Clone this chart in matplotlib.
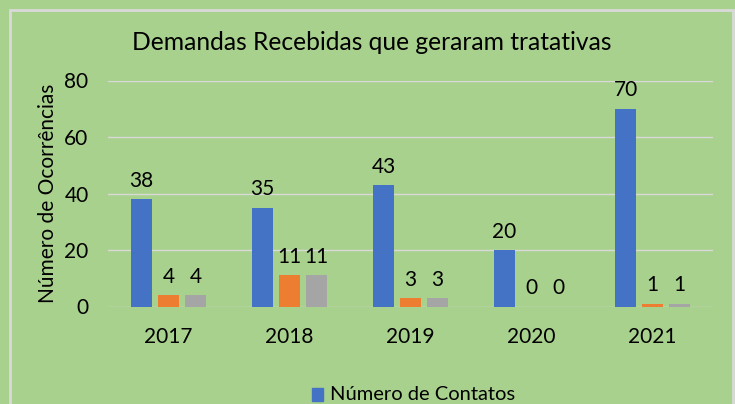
import numpy as np
import matplotlib.pyplot as plt
from matplotlib.patches import Rectangle

years = ["2017", "2018", "2019", "2020", "2021"]
contatos = [38, 35, 43, 20, 70]
serie2 = [4, 11, 3, 0, 1]
serie3 = [4, 11, 3, 0, 1]

bg = "#a9d18e"
colors = ["#4472c4", "#ed7d31", "#a5a5a5"]

plt.rcParams["font.family"] = ["Lato", "DejaVu Sans"]

fig = plt.figure(figsize=(7.35, 4.04), dpi=100, facecolor=bg)
ax = fig.add_axes([108 / 735, 1 - 306.5 / 404, 605 / 735, 226 / 404])
ax.set_facecolor(bg)

x = np.arange(len(years))
offsets = [-0.223, 0, 0.223]
width = 0.174
for vals, off, col in zip([contatos, serie2, serie3], offsets, colors):
    bars = ax.bar(x + off, vals, width, color=col, zorder=3)
    ax.bar_label(bars, padding=6, fontsize=15, color="#000000")

ax.set_xlim(-0.5, 4.5)
ax.set_ylim(0, 80)
ax.set_yticks([0, 20, 40, 60, 80])
ax.set_xticks(x)
ax.set_xticklabels(years)
ax.tick_params(axis="both", length=0, labelsize=15)
ax.tick_params(axis="x", pad=15)
ax.tick_params(axis="y", pad=14)
ax.grid(axis="y", color="#d9d9d9", linewidth=1, zorder=0)
for s in ax.spines.values():
    s.set_visible(False)

# axis title and chart title placed like the original
fig.text(48 / 735, 1 - 193 / 404, "Número de Ocorrências", rotation=90,
         ha="center", va="center", fontsize=15)
fig.text(372 / 735, 1 - 42 / 404, "Demandas Recebidas que geraram tratativas",
         ha="center", va="center", fontsize=17.7)

# border of the chart area
fig.patches.append(Rectangle((10 / 735, -0.1), 723 / 735, 1.1 - 10 / 404,
                             transform=fig.transFigure, fill=False,
                             edgecolor="#d9d9d9", linewidth=2))

# legend (lower part cut off in original)
fig.patches.append(Rectangle((312 / 735, 1 - 401 / 404), 11 / 735, 13 / 404,
                             transform=fig.transFigure, color=colors[0]))
fig.text(330 / 735, 1 - 394 / 404, "Número de Contatos", ha="left",
         va="center", fontsize=14.5)

fig.savefig("out.png", dpi=100, facecolor=bg)
